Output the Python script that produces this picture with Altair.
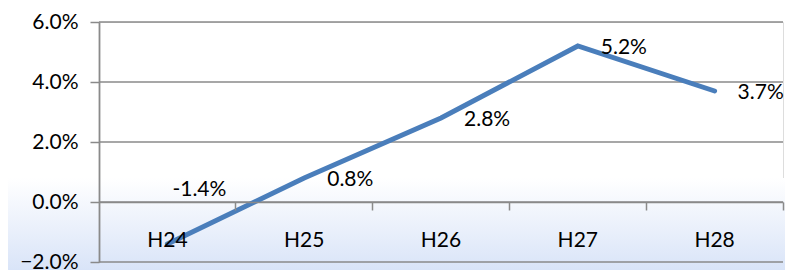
import altair as alt
import pandas as pd

categories = ["H24", "H25", "H26", "H27", "H28"]
values = [-0.014, 0.008, 0.028, 0.052, 0.037]
labels = ["-1.4%", "0.8%", "2.8%", "5.2%", "3.7%"]
y_ticks = [-0.02, 0.0, 0.02, 0.04, 0.06]

FONT = "Lato"
FS = 21
GREY = "#8a8a8a"
W, H = 684, 240

df = pd.DataFrame({"cat": categories, "val": values, "lab": labels, "idx": list(range(len(categories)))})
ticks_df = pd.DataFrame({"t": y_ticks})

yscale = alt.Scale(domain=[-0.02, 0.06], nice=False, zero=False)
xscale = alt.Scale(type="band", domain=categories, paddingInner=0, paddingOuter=0)

# background gradient band
bg = alt.Chart(pd.DataFrame({"a": [0]})).mark_rect(
    fill=alt.Gradient(
        gradient="linear",
        stops=[alt.GradientStop(color="#ffffff", offset=0),
               alt.GradientStop(color="#d9e4f8", offset=1)],
        x1=0, x2=0, y1=0, y2=1,
    )
).encode(x=alt.value(-91), x2=alt.value(W + 2), y=alt.value(156), y2=alt.value(H + 8))

grid = alt.Chart(ticks_df).mark_rule(color=GREY, strokeWidth=1.5).encode(
    y=alt.Y("t:Q", scale=yscale, axis=alt.Axis(
        values=y_ticks, format=".1%", grid=False, domainColor=GREY, domainWidth=1.8,
        tickColor=GREY, tickSize=9, tickWidth=1.5, labelFont=FONT, labelFontSize=FS,
        labelColor="#000000", labelPadding=12, title=None, zindex=1,
    ))
)

line = alt.Chart(df).mark_line(color="#4a7ebb", strokeWidth=5, strokeCap="round").encode(
    x=alt.X("cat:N", scale=xscale, bandPosition=0.5, sort=categories, axis=alt.Axis(
        orient="bottom", offset=-60, ticks=True, tickSize=8, tickColor=GREY, tickWidth=1.5,
        bandPosition=1, domain=True, domainColor=GREY,
        domainWidth=1.5, labelFont=FONT, labelFontSize=FS, labelColor="#000000",
        labelBaseline="middle", labelPadding=30, title=None, grid=False, labelAngle=0,
        zindex=1,
    )),
    y=alt.Y("val:Q", scale=yscale),
)

text_main = alt.Chart(df).transform_filter(alt.datum.idx > 0).mark_text(
    align="left", baseline="middle", dx=23, dy=2, font=FONT, fontSize=FS, color="#000000"
).encode(
    x=alt.X("cat:N", scale=xscale, bandPosition=0.5),
    y=alt.Y("val:Q", scale=yscale),
    text="lab:N",
)

text_first = alt.Chart(df).transform_filter(alt.datum.idx == 0).mark_text(
    align="left", baseline="middle", dx=5, dy=-54, font=FONT, fontSize=FS, color="#000000"
).encode(
    x=alt.X("cat:N", scale=xscale, bandPosition=0.5),
    y=alt.Y("val:Q", scale=yscale),
    text="lab:N",
)

chart = alt.layer(bg, grid, line, text_main, text_first).properties(
    width=W, height=H,
    autosize=alt.AutoSizeParams(type="none"),
    padding={"left": 91, "top": 14, "right": 2, "bottom": 8},
).configure_view(stroke=None).configure(background="#ffffff")

chart.save("out.html", embed_options={"renderer": "svg", "actions": False})
